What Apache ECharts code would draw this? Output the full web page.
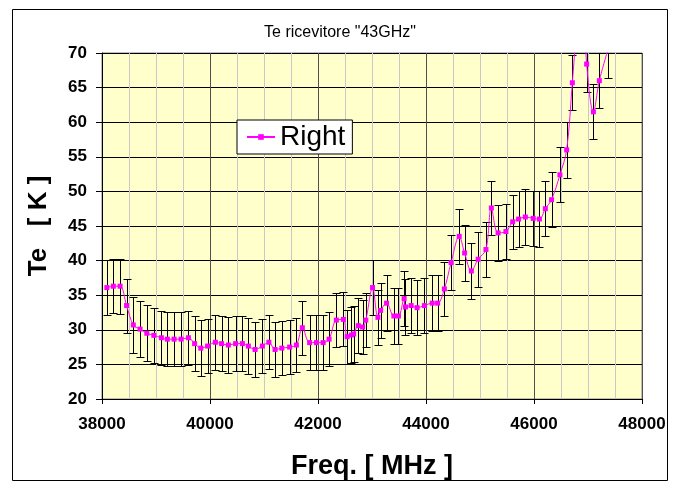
<!DOCTYPE html>
<html>
<head>
<meta charset="utf-8">
<script src="https://cdn.jsdelivr.net/npm/echarts@6/dist/echarts.min.js"></script>
<style>
  html, body { margin: 0; padding: 0; background: #fff; }
  #chart { width: 680px; height: 488px; }
</style>
</head>
<body>
<div id="chart"></div>
<script>
// Receiver noise temperature vs frequency, with ± uncertainty
const freq = [38090, 38210, 38335, 38455, 38580, 38705, 38830, 38960, 39100, 39210,
              39335, 39465, 39600, 39715, 39830, 39955, 40100, 40215, 40340, 40475,
              40600, 40710, 40835, 40970, 41090, 41205, 41330, 41475, 41600, 41710,
              41845, 41970, 42095, 42205, 42340, 42470, 42540, 42620, 42660, 42745,
              42825, 42885, 43010, 43110, 43160, 43270, 43405, 43490, 43595, 43620,
              43725, 43835, 43970, 44115, 44215, 44340, 44465, 44615, 44715, 44840,
              44965, 45110, 45210, 45335, 45480, 45605, 45715, 45840, 45985, 46100,
              46210, 46325, 46480, 46605, 46710, 46885, 46975, 47100, 47210, 47370];
const te = [36.1, 36.3, 36.3, 33.5, 30.7, 30.1, 29.5, 29.2, 28.85, 28.65,
            28.65, 28.65, 28.85, 28.0, 27.35, 27.65, 28.2, 28.0, 27.8, 28.0,
            28.0, 27.65, 27.15, 27.65, 28.2, 27.15, 27.35, 27.5, 27.8, 30.3,
            28.15, 28.15, 28.15, 28.65, 31.4, 31.5, 29.0, 29.25, 29.4, 30.6,
            30.4, 31.4, 36.1, 31.8, 32.8, 33.85, 32.0, 32.0, 34.5, 33.3,
            33.5, 33.2, 33.5, 33.85, 33.85, 35.9, 39.7, 43.5, 41.1, 38.5,
            40.2, 41.6, 47.6, 44.0, 44.2, 45.6, 46.0, 46.3, 46.1, 46.0,
            47.5, 48.8, 52.4, 56.0, 65.7, 81.5, 68.4, 61.5, 66.0, 70.5];
const err = [3.95, 3.9, 3.95, 3.9, 4.0, 4.0, 4.05, 3.95, 3.9, 3.95,
             3.95, 3.95, 3.9, 4.0, 4.0, 3.95, 3.95, 4.0, 4.0, 3.95,
             3.95, 4.0, 4.0, 3.95, 3.9, 4.0, 3.95, 3.95, 3.95, 3.9,
             4.0, 4.0, 4.0, 3.95, 3.9, 3.9, 3.9, 4.0, 4.0, 3.95,
             3.95, 3.9, 3.95, 4.0, 4.0, 4.0, 4.0, 4.0, 3.95, 4.0,
             3.95, 4.0, 3.95, 4.0, 4.0, 3.9, 4.0, 4.0, 4.0, 4.0,
             3.95, 4.0, 3.9, 4.0, 4.0, 3.95, 4.0, 4.0, 4.0, 4.0,
             4.0, 4.0, 4.0, 4.0, 3.95, 4.0, 4.05, 3.95, 4.0, 4.1];

const xTicks = [38000, 40000, 42000, 44000, 46000, 48000];
const yTicks = [20, 25, 30, 35, 40, 45, 50, 55, 60, 65, 70];

const FONT = "'Liberation Sans', Arial, Helvetica, sans-serif";

const lineData = freq.map((f, i) => [f, te[i]]);
const barData = freq.map((f, i) => [f, te[i] - err[i], te[i] + err[i]]);

const chart = echarts.init(document.getElementById('chart'), null, { renderer: 'canvas' });

function crisp(v) { return Math.round(v) + 0.5; }

chart.setOption({
  backgroundColor: '#ffffff',
  animation: false,
  title: {
    text: 'Te ricevitore "43GHz"',
    left: 'center',
    top: 20,
    textStyle: { fontFamily: FONT, fontSize: 16, fontWeight: 'normal', color: '#000' }
  },
  legend: {
    data: ['Right'],
    left: 237,
    top: 120,
    orient: 'horizontal',
    padding: [3, 7, 3, 9],
    itemWidth: 28,
    itemHeight: 7,
    backgroundColor: '#ffffff',
    borderColor: '#000000',
    borderWidth: 1,
    textStyle: { fontFamily: FONT, fontSize: 28, color: '#000' }
  },
  grid: {
    left: 102,
    right: 38,
    top: 53,
    bottom: 89,
    show: true,
    backgroundColor: '#FFFFCC',
    borderColor: '#808080',
    borderWidth: 1
  },
  xAxis: {
    type: 'value',
    min: xTicks[0],
    max: xTicks[xTicks.length - 1],
    interval: xTicks[1] - xTicks[0],
    name: 'Freq. [ MHz ]',
    nameLocation: 'middle',
    nameGap: 54,
    nameTextStyle: { fontFamily: FONT, fontSize: 27, fontWeight: 'bold', color: '#000' },
    axisLine: { show: true, onZero: false, lineStyle: { color: '#000', width: 1 } },
    axisTick: { show: true, length: 5, lineStyle: { color: '#000' } },
    axisLabel: {
      margin: 17, fontFamily: FONT, fontSize: 17, fontWeight: 'bold', color: '#000',
      formatter: function (v) { return String(v); }
    },
    splitLine: { show: true, lineStyle: { color: '#505050', width: 1 } },
    minorTick: { show: false, splitNumber: 4 },
    minorSplitLine: { show: true, lineStyle: { color: '#C8C8C8', width: 1 } }
  },
  yAxis: {
    type: 'value',
    min: yTicks[0],
    max: yTicks[yTicks.length - 1],
    interval: yTicks[1] - yTicks[0],
    name: 'Te   [ K ]',
    nameLocation: 'middle',
    nameGap: 50,
    nameTextStyle: { fontFamily: FONT, fontSize: 26, fontWeight: 'bold', color: '#000' },
    axisLine: { show: true, onZero: false, lineStyle: { color: '#000', width: 1 } },
    axisTick: { show: true, length: 6, lineStyle: { color: '#000' } },
    axisLabel: { margin: 15, fontFamily: FONT, fontSize: 17, fontWeight: 'bold', color: '#000' },
    splitLine: { show: true, lineStyle: { color: '#000', width: 1 } }
  },
  graphic: [{
    type: 'rect',
    z: -10,
    silent: true,
    shape: { x: 12.5, y: 9.5, width: 655, height: 471 },
    style: { fill: 'none', stroke: '#000', lineWidth: 1 }
  }],
  series: [
    {
      name: 'Errors',
      type: 'custom',
      clip: true,
      z: 2,
      data: barData,
      encode: { x: 0, y: [1, 2] },
      renderItem: function (params, api) {
        const x = api.value(0);
        const top = api.coord([x, api.value(2)]);
        const bot = api.coord([x, api.value(1)]);
        const cx = crisp(top[0]);
        const yt = crisp(top[1]);
        const yb = crisp(bot[1]);
        const half = 4;
        const style = { stroke: '#000', lineWidth: 1, fill: null };
        return {
          type: 'group',
          children: [
            { type: 'line', shape: { x1: cx, y1: yt, x2: cx, y2: yb }, style: style },
            { type: 'line', shape: { x1: cx - half, y1: yt, x2: cx + half, y2: yt }, style: style },
            { type: 'line', shape: { x1: cx - half, y1: yb, x2: cx + half, y2: yb }, style: style }
          ]
        };
      }
    },
    {
      name: 'Right',
      type: 'line',
      z: 3,
      data: lineData,
      clip: true,
      smooth: 0.35,
      symbol: 'rect',
      symbolSize: 5,
      showAllSymbol: true,
      itemStyle: { color: '#FF00FF' },
      lineStyle: { color: '#FF00FF', width: 1 }
    }
  ]
});
</script>
</body>
</html>
